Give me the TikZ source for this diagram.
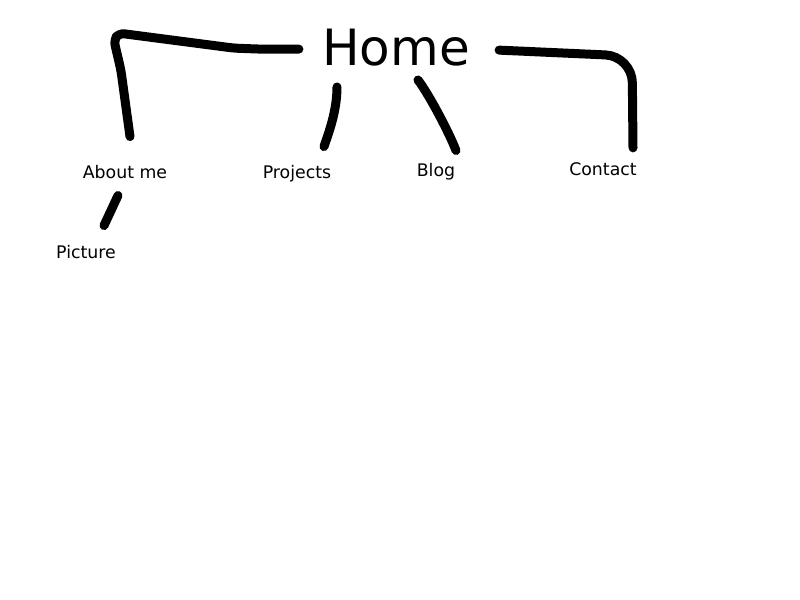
\documentclass[tikz,border=0pt]{standalone}
\usepackage{fontspec}
\setmainfont{DejaVu Sans}
\usetikzlibrary{calc}

\begin{document}
\begin{tikzpicture}[x=0.75pt, y=-0.75pt,
  page/.style={anchor=base, inner sep=0pt, font=\fontsize{13}{15}\selectfont},
  title/.style={anchor=base, inner sep=0pt, font=\fontsize{37.5}{44}\selectfont},
  stroke/.style={line width=6.75pt, line cap=round, line join=round}]
\useasboundingbox (0,0) rectangle (800,600);

\node[title] (home) at (396,65) {Home};
\node[page] (about) at (125,178) {About me};
\node[page] (projects) at (297,178) {Projects};
\node[page] (blog) at (436,176) {Blog};
\node[page] (contact) at (603,175) {Contact};
\node[page] (picture) at (86,258) {Picture};

\draw[stroke, rounded corners=4pt] ($(home.west)+(-23,2)$) -- ++(-38,0) -- ++(-27,-1)
  -- ++(-115,-15) -- ++(-5,7) -- ++(7,30) -- ($(about.north)+(5,-28)$);
\draw[stroke] ($(home.south)+(-59,21)$) .. controls +(0,25) and +(4,-12) .. ($(projects.north)+(27,-18)$);
\draw[stroke] ($(home.south)+(22,14)$) .. controls +(12,16) and +(-6,-16) .. ($(blog.north)+(20,-12)$);
\draw[stroke, rounded corners=20pt] ($(home.east)+(29,3)$) -- ++(133,6) -- ($(contact.north)+(30,-14)$);
\draw[stroke] ($(about.south)+(-7,17)$) -- ($(picture.north)+(18,-19)$);
\end{tikzpicture}
\end{document}
